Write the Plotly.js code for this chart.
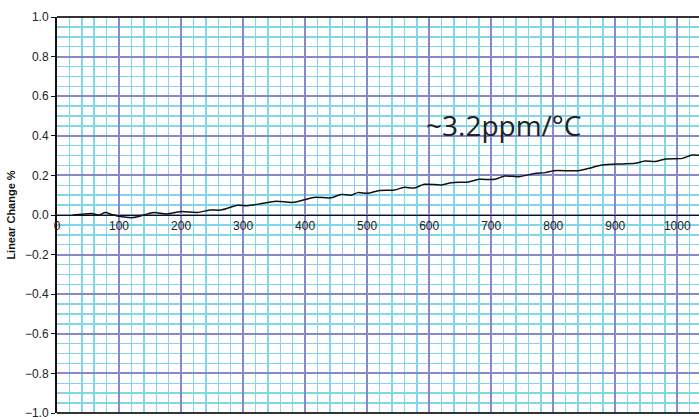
<!DOCTYPE html>
<html>
<head>
<meta charset="utf-8">
<script src="https://cdn.plot.ly/plotly-3.0.1.min.js"></script>
<style>html,body{margin:0;padding:0;background:#fff;}#chart{width:699px;height:417px;}</style>
</head>
<body>
<div id="chart"></div>
<script>
var temperature = [25, 40, 56, 67, 78, 88, 102, 123, 140, 156, 177, 199, 226, 248, 264, 291, 307, 330, 353, 382, 414, 442, 458, 474, 485, 501, 518, 544, 560, 576, 592, 620, 636, 663, 680, 706, 722, 744, 770, 787, 801, 841, 858, 879, 911, 932, 948, 964, 981, 1008, 1024, 1040];
var linearChange = [0.0, 0.004, 0.008, 0.0, 0.012, 0.003, -0.008, -0.013, 0.0, 0.013, 0.005, 0.017, 0.013, 0.025, 0.025, 0.049, 0.047, 0.058, 0.07, 0.064, 0.089, 0.087, 0.104, 0.10, 0.113, 0.11, 0.123, 0.126, 0.14, 0.136, 0.155, 0.152, 0.163, 0.167, 0.18, 0.18, 0.197, 0.193, 0.21, 0.214, 0.224, 0.224, 0.236, 0.252, 0.258, 0.261, 0.273, 0.27, 0.283, 0.286, 0.303, 0.30];
var annotationText = "~3.2ppm/°C";
var yTitle = "Linear Change %";

var trace = {
  x: temperature, y: linearChange, type: 'scatter', mode: 'lines',
  line: {color: '#111', width: 1.5, shape: 'spline', smoothing: 0.8},
  hoverinfo: 'skip'
};

var layout = {
  width: 699, height: 417,
  margin: {l: 57, r: 0, t: 17, b: 4},
  paper_bgcolor: '#fff', plot_bgcolor: '#fff',
  showlegend: false,
  font: {family: 'Liberation Sans, Arial, sans-serif', size: 12, color: '#222'},
  xaxis: {
    range: [0, 1035], dtick: 100, tick0: 0,
    anchor: 'free', position: 0.5,
    showline: true, linecolor: '#111', linewidth: 1,
    showgrid: true, gridcolor: 'rgb(136,136,204)', gridwidth: 2,
    minor: {dtick: 20, tick0: 0, showgrid: true, gridcolor: 'rgb(130,214,232)', gridwidth: 1.5},
    zeroline: false, ticks: '',
    tickfont: {size: 12, color: '#222'}
  },
  yaxis: {
    range: [-1, 1], dtick: 0.2, tick0: 0, tickformat: '.1f',
    showline: true, linecolor: '#111', linewidth: 2,
    showgrid: true, gridcolor: 'rgb(136,136,204)', gridwidth: 2,
    minor: {dtick: 0.05, tick0: 0, showgrid: true, gridcolor: 'rgb(130,214,232)', gridwidth: 1.5},
    zeroline: false, ticks: 'outside', ticklen: 4, tickcolor: '#111',
    ticklabeloverflow: 'allow',
    tickfont: {size: 12, color: '#222'},
    title: {text: yTitle, font: {size: 11, color: '#111', family: 'Liberation Sans, Arial, sans-serif', weight: 'bold'}, standoff: 7}
  },
  shapes: [
    {type: 'line', xref: 'paper', yref: 'paper', x0: 0, x1: 1, y0: 1, y1: 1, line: {color: '#333', width: 2}, layer: 'above'},
    {type: 'line', xref: 'paper', yref: 'paper', x0: 0, x1: 1, y0: 0, y1: 0, line: {color: '#333', width: 2}, layer: 'above'}
  ],
  annotations: [{
    x: 720, y: 0.455, xref: 'x', yref: 'y', text: annotationText, showarrow: false,
    font: {family: 'Open Sans, sans-serif', size: 28, color: '#222'}
  }]
};

Plotly.newPlot('chart', [trace], layout, {displayModeBar: false, staticPlot: true});
</script>
</body>
</html>
